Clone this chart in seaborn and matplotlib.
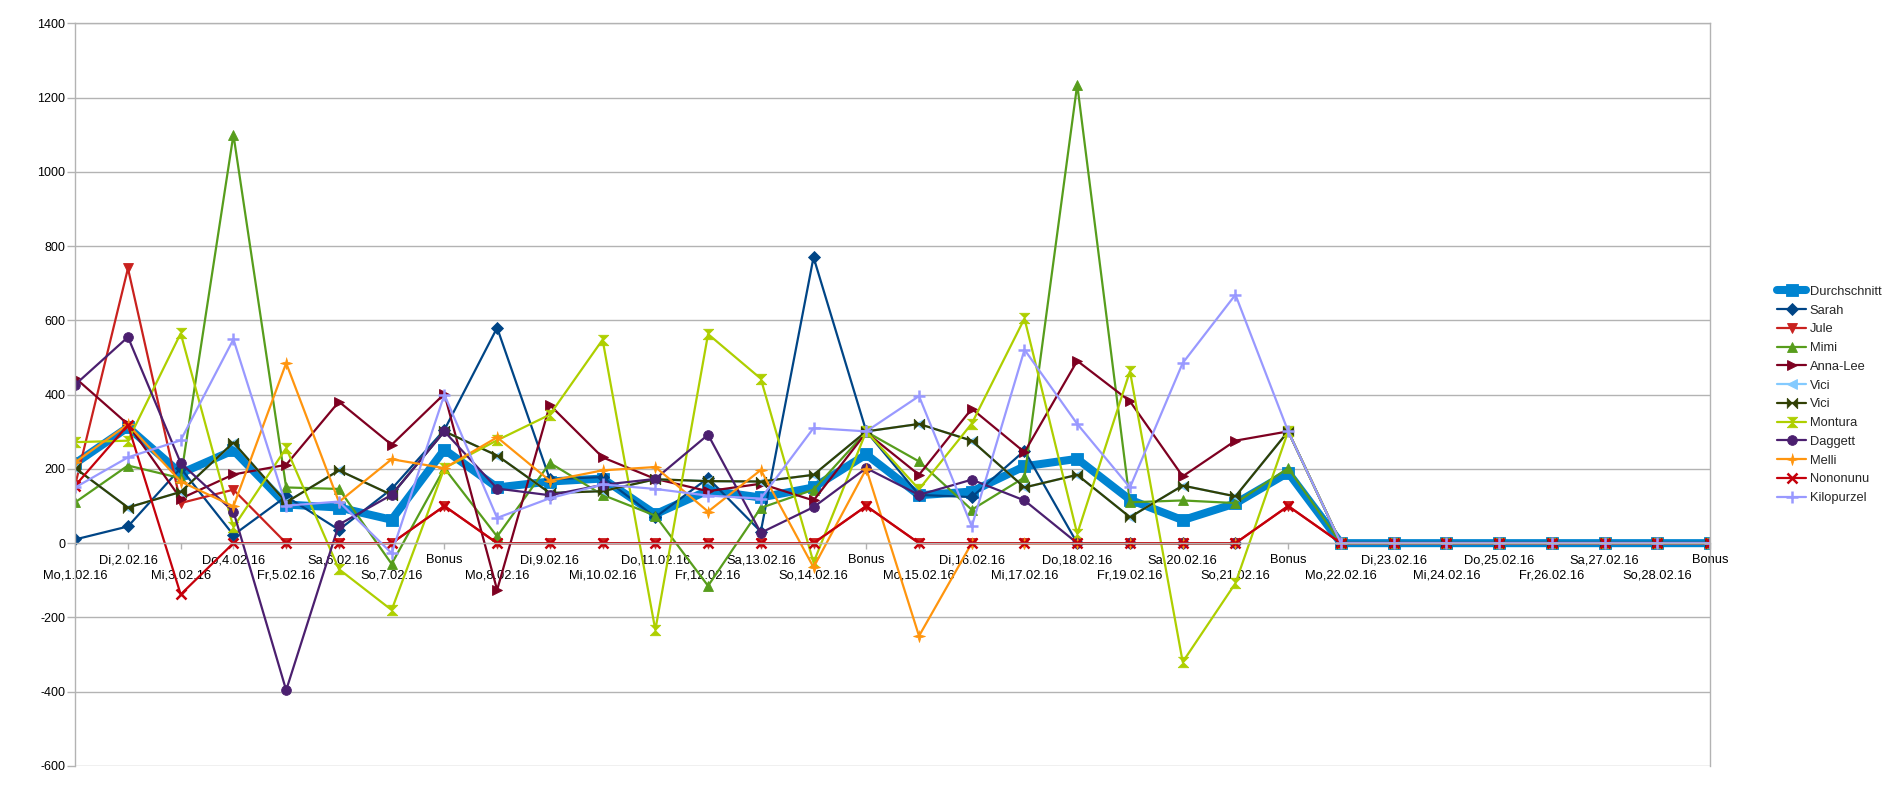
"""Punkteverlauf Februar 2016 als Liniendiagramm."""

import matplotlib

matplotlib.use("Agg")

import matplotlib.pyplot as plt
import numpy as np
import seaborn as sns

nan = np.nan

days = [
    "Mo,1.02.16", "Di,2.02.16", "Mi,3.02.16", "Do,4.02.16", "Fr,5.02.16",
    "Sa,6.02.16", "So,7.02.16", "Bonus",
    "Mo,8.02.16", "Di,9.02.16", "Mi,10.02.16", "Do,11.02.16", "Fr,12.02.16",
    "Sa,13.02.16", "So,14.02.16", "Bonus",
    "Mo,15.02.16", "Di,16.02.16", "Mi,17.02.16", "Do,18.02.16", "Fr,19.02.16",
    "Sa,20.02.16", "So,21.02.16", "Bonus",
    "Mo,22.02.16", "Di,23.02.16", "Mi,24.02.16", "Do,25.02.16", "Fr,26.02.16",
    "Sa,27.02.16", "So,28.02.16", "Bonus",
]

durchschnitt = [215, 312, 188, 250, 104, 96, 63, 252, 150, 166, 174, 78, 142, 123, 150, 239,
                129, 139, 207, 227, 117, 62, 107, 190, 0, 0, 0, 0, 0, 0, 0, 0]
sarah = [10, 45, 202, 22, 126, 36, 146, 305, 580, 172, 178, 70, 175, 31, 770, 301,
         130, 124, 249, 0, 0, 0, 0, nan, 0, 0, 0, 0, 0, 0, 0, 0]
jule = [157, 740, 108, 144, 0, 0, 0, 100, 0, 0, 0, 0, 0, 0, 0, 100,
        0, 0, 0, 0, 0, 0, 0, 100, 0, 0, 0, 0, 0, 0, 0, 0]
mimi = [110, 209, 175, 1100, 150, 146, -56, 202, 18, 216, 130, 74, -115, 95, 144, 300,
        220, 90, 177, 1235, 110, 115, 108, 202, 0, 0, 0, 0, 0, 0, 0, 0]
anna_lee = [445, 320, 120, 185, 211, 381, 265, 402, -126, 372, 231, 173, 140, 160, 115, 298,
            184, 362, 245, 491, 382, 180, 276, 301, 0, 0, 0, 0, 0, 0, 0, 0]
vici_1 = [202, 96, 138, 271, 110, 196, 130, 301, 236, 135, 140, 172, 167, 166, 184, 301,
          321, 276, 150, 184, 70, 155, 126, 301, 0, 0, 0, 0, 0, 0, 0, 0]
vici_2 = [202, 96, 138, 271, 110, 196, 130, 301, 236, 135, 140, 172, 167, 166, 184, 301,
          321, 276, 150, 184, 70, 155, 126, 301, 0, 0, 0, 0, 0, 0, 0, 0]
montura = [272, 276, 565, 43, 256, -70, -180, 202, 277, 346, 548, -234, 563, 443, -52, 301,
           145, 322, 605, 25, 463, -320, -108, 301, 0, 0, 0, 0, 0, 0, 0, 0]
daggett = [427, 555, 216, 85, -396, 50, 130, 301, 147, 129, 157, 173, 292, 28, 97, 202,
           130, 171, 115, 0, 0, 0, 0, nan, 0, 0, 0, 0, 0, 0, 0, 0]
melli = [218, 320, 166, 99, 485, 111, 226, 202, 285, 168, 196, 205, 85, 197, -65, 200,
         -250, 0, 0, 0, 0, 0, 0, nan, 0, 0, 0, 0, 0, 0, 0, 0]
nononunu = [155, 318, -138, 0, 0, 0, 0, 100, 0, 0, 0, 0, 0, 0, 0, 100,
            0, 0, 0, 0, 0, 0, 0, 100, 0, 0, 0, 0, 0, 0, 0, 0]
kilopurzel = [150, 231, 277, 549, 101, 112, -27, 400, 68, 121, 158, 146, 128, 120, 310, 301,
              396, 45, 521, 321, 150, 485, 669, 301, 0, 0, 0, 0, 0, 0, 0, 0]

yticks = [-600, -400, -200, 0, 200, 400, 600, 800, 1000, 1200, 1400]

# LibreOffice-artige Symbole
BOWTIE = [(-1, -1), (-1, 1), (0, 0), (1, 1), (1, -1), (0, 0)]
HOURGLASS = [(-1, 1), (1, 1), (0, 0), (1, -1), (-1, -1), (0, 0)]
STAR4 = [(0, 1), (0.22, 0.22), (1, 0), (0.22, -0.22), (0, -1), (-0.22, -0.22), (-1, 0), (-0.22, 0.22)]

series = [
    ("Durchschnitt", durchschnitt, "#0084d1", "s", 5.8, 8.5),
    ("Sarah", sarah, "#004586", "D", 1.6, 6.0),
    ("Jule", jule, "#c9211e", "v", 1.6, 7.0),
    ("Mimi", mimi, "#579d1c", "^", 1.6, 7.0),
    ("Anna-Lee", anna_lee, "#7e0021", ">", 1.6, 7.0),
    ("Vici", vici_1, "#83caff", "<", 1.6, 7.0),
    ("Vici", vici_2, "#314004", BOWTIE, 1.6, 7.5),
    ("Montura", montura, "#aecf00", HOURGLASS, 1.6, 7.5),
    ("Daggett", daggett, "#4b1f6f", "o", 1.6, 7.0),
    ("Melli", melli, "#ff950e", STAR4, 1.6, 8.5),
    ("Nononunu", nononunu, "#c5000b", "x", 1.6, 6.5),
    ("Kilopurzel", kilopurzel, "#9999ff", "+", 1.6, 8.5),
]


def _runs(values):
    """Split a series at missing values so the line leaves a gap there."""
    vals = np.asarray(values, dtype=float)
    idx = np.flatnonzero(~np.isnan(vals))
    breaks = np.flatnonzero(np.diff(idx) > 1) + 1
    return [(run, vals[run]) for run in np.split(idx, breaks) if len(run)]


sns.set_theme(style="white")
plt.rcParams["font.family"] = ["Liberation Sans", "DejaVu Sans"]
plt.rcParams["axes.unicode_minus"] = False

grid_color = "#b3b3b3"
fig, ax = plt.subplots(figsize=(18.9, 7.89), dpi=100)
fig.subplots_adjust(left=0.0398, right=0.9048, top=0.9705, bottom=0.0292)

for name, values, color, marker, lw, ms in series:
    open_marker = marker in ("x", "+")
    for k, (xs, ys) in enumerate(_runs(values)):
        sns.lineplot(
            x=xs, y=ys, ax=ax, label=name if k == 0 else "_nolegend_", color=color,
            linewidth=lw, marker=marker, markersize=ms, markeredgecolor=color,
            markeredgewidth=1.8 if open_marker else 0.6,
            estimator=None, sort=False,
        )

positions = np.arange(len(days))
ax.set_xlim(0, len(days) - 1)
ax.set_ylim(-600, 1400)
ax.set_yticks(yticks)
ax.set_yticklabels([str(v) for v in yticks])
# staggered category labels: odd days on the upper row, even days below
ax.set_xticks(positions[1::2], labels=days[1::2])
ax.set_xticks(positions[0::2], labels=days[0::2], minor=True)
ax.set_xlabel("")
ax.set_ylabel("")

ax.yaxis.grid(True, color=grid_color, linewidth=1.0)
ax.xaxis.grid(False, which="both")
ax.set_axisbelow(True)
for side in ["left", "right", "top", "bottom"]:
    ax.spines[side].set_color(grid_color)
    ax.spines[side].set_linewidth(1.0)
ax.spines["bottom"].set_position(("data", 0))
ax.tick_params(axis="x", which="major", length=4, width=1, color=grid_color, pad=4.0,
               labelsize=9.3, labelcolor="#000000", bottom=True)
ax.tick_params(axis="x", which="minor", length=4, width=1, color=grid_color, pad=14.8,
               labelsize=9.3, labelcolor="#000000", bottom=True)
ax.tick_params(axis="y", length=6, width=1, color=grid_color, pad=1,
               labelsize=9.0, labelcolor="#000000", left=True)

handles, labels = ax.get_legend_handles_labels()
ax.get_legend().remove()
fig.legend(handles, labels, loc="center left", bbox_to_anchor=(0.9343, 0.4994),
           frameon=False, handlelength=2.2, handletextpad=0.3,
           labelspacing=0.52, fontsize=9.3, numpoints=1)

fig.savefig("out.png", dpi=100)
